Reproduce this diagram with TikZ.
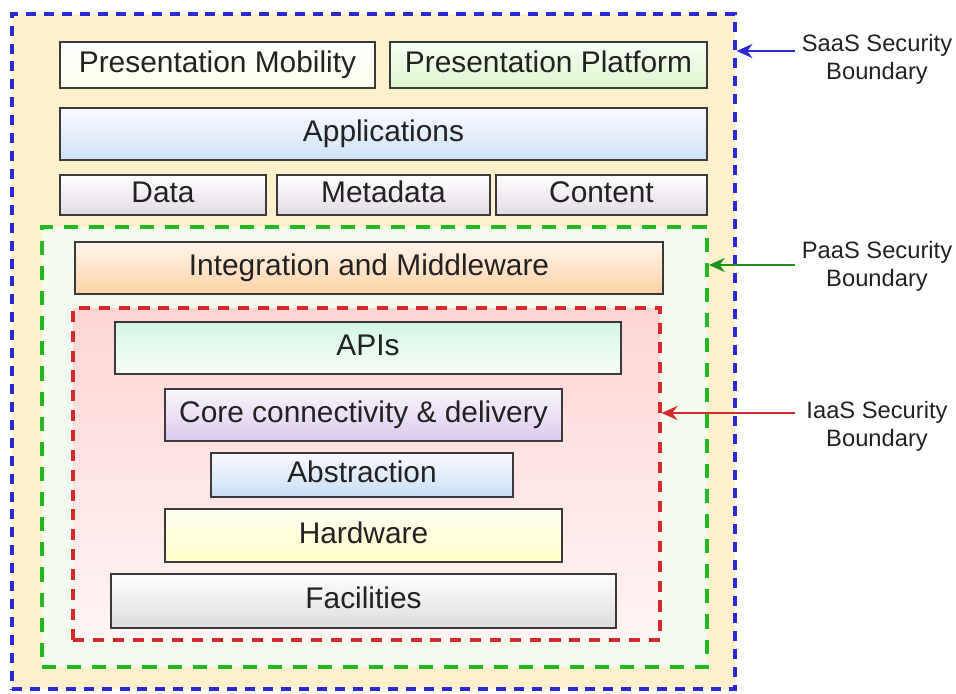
\documentclass[tikz,border=0pt]{standalone}
\usepackage{fontspec}
\setmainfont{Liberation Sans}
\usetikzlibrary{fit,positioning,arrows.meta}
\definecolor{saasline}{HTML}{2A2AD0}
\definecolor{paasline}{HTML}{22B822}
\definecolor{iaasline}{HTML}{D42A2A}
\definecolor{saasfill}{HTML}{FCF1CB}
\definecolor{paasfill}{HTML}{F3FCEF}
\definecolor{boxline}{HTML}{3A3A3A}
\definecolor{txt}{HTML}{222222}
\definecolor{platformbot}{HTML}{E0F5CC}
\definecolor{appsbot}{HTML}{CCE2F6}
\definecolor{databot}{HTML}{E4DAE6}
\definecolor{corebot}{HTML}{DCCAF2}
\definecolor{absbot}{HTML}{C8DEF5}
\definecolor{apistop}{HTML}{D2F6E4}

\begin{document}
\begin{tikzpicture}[x=0.02cm,y=-0.02cm,
    >={Stealth[length=9pt,width=8pt]},
    layer/.style={draw=boxline,line width=1.2pt,inner sep=0pt,
      text height=12.2pt,text depth=3.6pt,
      font=\fontsize{17}{20}\selectfont,text=txt},
    bound/.style={line width=1.8pt,inner sep=0pt},
    lbl/.style={align=center,font=\fontsize{13.5}{16}\selectfont,text=txt}]
        \useasboundingbox (0,0) rectangle (956,693);

        % security boundaries
        \node[bound,draw=saasline,dash pattern=on 5.7pt off 4.5pt,fill=saasfill,
          fit={(12,14) (735,689)}] (saas) {};
        \node[bound,draw=paasline,line width=2.2pt,dash pattern=on 8pt off 6.3pt,fill=paasfill,
          fit={(42,227) (707,667)}] (paas) {};
        \node[bound,draw=iaasline,dash pattern=on 6.3pt off 5pt,
          top color=red!17,bottom color=red!4,
          fit={(73,308) (660,640)}] (iaas) {};

        % saas layers
        \node[layer,top color=white,bottom color=green!7!yellow!8,
          minimum width=6.30cm,minimum height=0.92cm] (mobility) at (217.5,65) {Presentation Mobility};
        \node[layer,top color=green!4,bottom color=platformbot,
          minimum width=6.34cm,minimum height=0.92cm] (platform) at (548.5,65) {Presentation Platform};
        \node[layer,top color=blue!2,bottom color=appsbot,
          minimum width=12.94cm,minimum height=1.04cm] (apps) at (383.5,134) {Applications};
        \node[layer,top color=white,bottom color=databot,
          minimum width=4.12cm,minimum height=0.80cm] (data) at (163,195) {Data};
        \node[layer,top color=white,bottom color=databot,
          minimum width=4.26cm,minimum height=0.80cm] (meta) at (383.5,195) {Metadata};
        \node[layer,top color=white,bottom color=databot,
          minimum width=4.22cm,minimum height=0.80cm] (content) at (601.5,195) {Content};

        % paas layer
        \node[layer,top color=orange!8,bottom color=orange!35,
          minimum width=11.76cm,minimum height=1.04cm] (middleware) at (369,268) {Integration and Middleware};

        % iaas layers
        \node[layer,top color=apistop,bottom color=green!3,
          minimum width=10.12cm,minimum height=1.04cm] (apis) at (368,348) {APIs};
        \node[layer,top color=violet!4,bottom color=corebot,
          minimum width=7.94cm,minimum height=1.04cm] (core) at (363.5,415) {Core connectivity \& delivery};
        \node[layer,top color=blue!2,bottom color=absbot,
          minimum width=6.04cm,minimum height=0.88cm] (abstraction) at (362,475) {Abstraction};
        \node[layer,top color=yellow!5,bottom color=yellow!22,
          minimum width=7.94cm,minimum height=1.06cm] (hardware) at (363.5,535.5) {Hardware};
        \node[layer,top color=white,bottom color=black!14,
          minimum width=10.10cm,minimum height=1.08cm] (facilities) at (363.5,601) {Facilities};

        % labels
        \node[lbl] (saaslbl) at (877,59) {SaaS Security\\Boundary};
        \node[lbl] (paaslbl) at (877,266) {PaaS Security\\Boundary};
        \node[lbl] (iaaslbl) at (877,426) {IaaS Security\\Boundary};

        \coordinate (saasin) at (795,51);
        \coordinate (paasin) at (795,265);
        \coordinate (iaasin) at (795,413);

        \draw[->,saasline,line width=1.5pt] (saasin) -- (saasin -| saas.east);
        \draw[->,paasline!80!black,line width=1.5pt] (paasin) -- (paasin -| paas.east);
        \draw[->,iaasline,line width=1.5pt] (iaasin) -- (iaasin -| iaas.east);
      \end{tikzpicture}
\end{document}
